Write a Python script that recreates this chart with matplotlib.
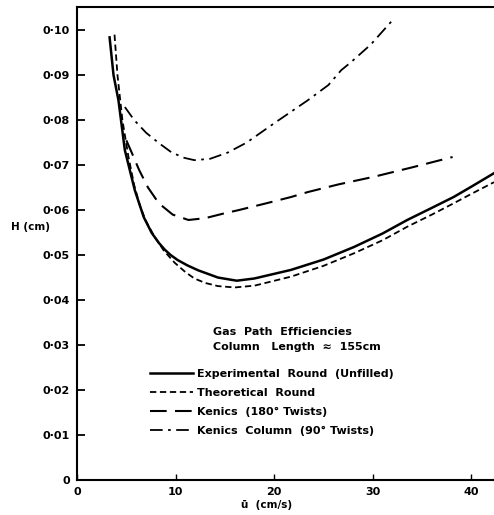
import matplotlib
matplotlib.use("Agg")
import matplotlib.pyplot as plt
from matplotlib.lines import Line2D

# values (u in cm/s, H in cm)
exp_u = [3.3, 3.7, 4.2, 4.85, 5.35, 5.86, 6.36, 6.77, 7.58, 8.3, 8.9, 9.5,
         10.2, 11.2, 12.3, 14.3, 16.2, 18.0, 21.7, 25.0, 28.1, 31.0, 33.5,
         36.0, 38.2, 40.0, 42.3]
exp_h = [0.0984, 0.0900, 0.0844, 0.0733, 0.0689, 0.0644, 0.0611, 0.0584,
         0.0549, 0.0527, 0.0512, 0.0500, 0.0489, 0.0477, 0.0466, 0.0450,
         0.0443, 0.0448, 0.0467, 0.0490, 0.0518, 0.0548, 0.0578, 0.0605,
         0.0629, 0.0652, 0.0682]

theo_u = [3.8, 4.1, 4.6, 5.2, 5.8, 6.4, 7.0, 7.8, 8.8, 9.9, 11.0, 11.9, 13.0,
          14.3, 16.0, 18.0, 21.7, 25.0, 28.1, 31.0, 33.5, 36.0, 38.2, 40.0, 42.3]
theo_h = [0.0990, 0.0900, 0.0800, 0.0720, 0.0655, 0.0608, 0.0575, 0.0543,
          0.0510, 0.0483, 0.0462, 0.0448, 0.0438, 0.0431, 0.0428, 0.0432,
          0.0452, 0.0476, 0.0504, 0.0533, 0.0563, 0.0590, 0.0615, 0.0636,
          0.0662]

k180_u = [5.0, 5.6, 6.3, 7.2, 8.3, 9.7, 11.3, 13.0, 14.8, 16.4, 19.0, 21.7,
          23.4, 26.5, 30.1, 34.0, 38.1]
k180_h = [0.0755, 0.0725, 0.0689, 0.0650, 0.0615, 0.0590, 0.0578, 0.0582,
          0.0592, 0.0600, 0.0614, 0.0629, 0.0640, 0.0657, 0.0674, 0.0695,
          0.0718]

k90_u = [4.85, 5.8, 7.0, 8.3, 9.6, 10.9, 11.9, 13.5, 15.3, 17.2, 20.0, 23.4,
         25.5, 26.8, 27.8, 29.8, 32.0]
k90_h = [0.0829, 0.0800, 0.0772, 0.0749, 0.0728, 0.0716, 0.0711, 0.0714,
         0.0728, 0.0750, 0.0793, 0.0844, 0.0878, 0.0911, 0.0929, 0.0968,
         0.1022]

labels = ["Experimental  Round  (Unfilled)", "Theoretical  Round",
          "Kenics  (180° Twists)", "Kenics  Column  (90° Twists)"]
x_ticks = [0, 10, 20, 30, 40]
y_ticks = [0, 0.01, 0.02, 0.03, 0.04, 0.05, 0.06, 0.07, 0.08, 0.09, 0.10]
y_tick_labels = ["0", "0·01", "0·02", "0·03", "0·04", "0·05", "0·06",
                 "0·07", "0·08", "0·09", "0·10"]

plt.rcParams['font.family'] = ['DejaVu Sans']
plt.rcParams['font.weight'] = 'bold'

fig = plt.figure(figsize=(4.94, 5.15), dpi=100)
ax = fig.add_axes([0.156, 0.068, 0.844, 0.918])

styles = [
    dict(color='black', lw=1.8, linestyle='-'),
    dict(color='black', lw=1.3, linestyle=(0, (3.5, 2))),
    dict(color='black', lw=1.5, linestyle=(0, (8, 4))),
    dict(color='black', lw=1.3, linestyle=(0, (7, 3, 1.5, 3))),
]
series = [(exp_u, exp_h), (theo_u, theo_h), (k180_u, k180_h), (k90_u, k90_h)]
for (u, h), st in zip(series, styles):
    ax.plot(u, h, **st)

ax.set_xlim(0, 42.3)
ax.set_ylim(0, 0.1051)
ax.set_xticks(x_ticks)
ax.set_yticks(y_ticks)
ax.set_yticklabels(y_tick_labels)
ax.tick_params(axis='y', direction='in', length=6, width=1.3, pad=5, labelsize=8)
ax.tick_params(axis='x', direction='in', length=4, width=1.0, pad=5, labelsize=8)

ax.spines['right'].set_visible(False)
for side in ['left', 'bottom', 'top']:
    ax.spines[side].set_linewidth(1.5)

fig.text(30 / 494, 1 - 227 / 515, "H (cm)", fontsize=7.5, fontweight='bold',
         ha='center', va='center')
fig.text(267 / 494, 1 - 505 / 515, "ū  (cm/s)", fontsize=7.5, fontweight='bold',
         ha='center', va='center')

# legend header
ax.text(13.8, 0.0329, "Gas  Path  Efficiencies", fontsize=8, fontweight='bold',
        ha='left', va='center')
ax.text(13.8, 0.0296, "Column   Length  ≈  155cm", fontsize=8, fontweight='bold',
        ha='left', va='center')

handles = [Line2D([], [], **st) for st in styles]
ax.legend(handles, labels, frameon=False, loc='upper left',
          bbox_to_anchor=(0.161, 0.247), handlelength=3.9, handletextpad=0.36,
          labelspacing=0.8, prop=dict(size=8, weight='bold'), borderpad=0)

fig.savefig("out.png", dpi=100)
